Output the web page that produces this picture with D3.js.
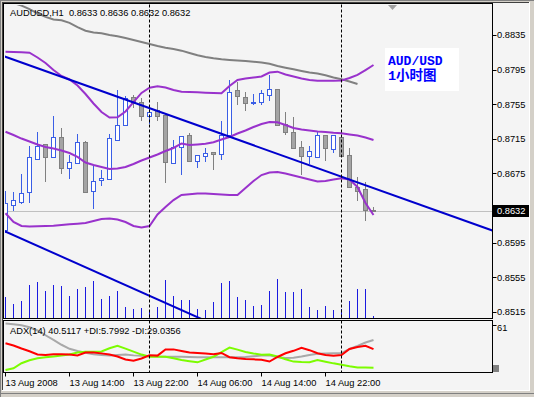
<!DOCTYPE html>
<html><head><meta charset="utf-8">
<script src="https://cdn.jsdelivr.net/npm/d3@7"></script>
<style>
html,body{margin:0;padding:0;background:#f4f4f4;overflow:hidden;}
svg{display:block;}
</style></head><body>
<svg id="c" width="534" height="397"></svg>
<script>
// ---------- data ----------
const barTimes = d3.range(47); // 13 Aug 2008 06:00 .. 15 Aug 04:00, H1 bars
const openP  = [0.8610,0.8638,0.8642,0.8653,0.8692,0.8709,0.8694,0.8717,0.8681,0.8687,0.8711,0.8655,0.8667,0.8669,0.8714,0.8731,0.8763,0.8758,0.8741,0.8748,0.8742,0.8687,0.8706,0.8719,0.8689,0.8695,0.8700,0.8698,0.8719,0.8771,0.8763,0.8756,0.8758,0.8766,0.8772,0.8732,0.8723,0.8705,0.8695,0.8694,0.8719,0.8703,0.8717,0.8696,0.8659,0.8657,0.8633];
const highP  = [0.8655,0.8653,0.8674,0.8707,0.8723,0.8709,0.8741,0.8727,0.8696,0.8721,0.8712,0.8683,0.8679,0.8720,0.8771,0.8765,0.8766,0.8762,0.8750,0.8758,0.8742,0.8714,0.8718,0.8722,0.8696,0.8704,0.8700,0.8736,0.8783,0.8781,0.8769,0.8767,0.8771,0.8789,0.8773,0.8746,0.8740,0.8712,0.8707,0.8724,0.8719,0.8719,0.8719,0.8704,0.8671,0.8665,0.8636];
const lowP   = [0.8607,0.8633,0.8641,0.8642,0.8692,0.8666,0.8694,0.8675,0.8670,0.8687,0.8653,0.8635,0.8662,0.8669,0.8714,0.8731,0.8752,0.8737,0.8733,0.8737,0.8665,0.8687,0.8674,0.8689,0.8682,0.8689,0.8680,0.8692,0.8719,0.8755,0.8748,0.8755,0.8755,0.8760,0.8731,0.8721,0.8704,0.8674,0.8687,0.8694,0.8690,0.8700,0.8695,0.8659,0.8644,0.8621,0.8632];
const closeP = [0.8641,0.8644,0.8652,0.8694,0.8707,0.8694,0.8717,0.8681,0.8688,0.8711,0.8653,0.8666,0.8670,0.8716,0.8731,0.8762,0.8756,0.8741,0.8746,0.8741,0.8688,0.8706,0.8718,0.8689,0.8696,0.8699,0.8697,0.8719,0.8769,0.8764,0.8756,0.8757,0.8768,0.8773,0.8731,0.8723,0.8704,0.8695,0.8701,0.8719,0.8704,0.8719,0.8695,0.8659,0.8655,0.8633,0.8632];
const volumes = [412,286,332,652,712,532,666,632,432,586,612,732,372,432,532,212,172,206,126,226,752,432,352,366,186,166,312,692,746,412,352,232,266,532,786,512,512,586,212,152,246,166,186,332,586,586,46];

const bbUpper = [0.88157,0.88153,0.88150,0.88145,0.88090,0.88026,0.87945,0.87876,0.87836,0.87766,0.87668,0.87558,0.87460,0.87396,0.87399,0.87466,0.87575,0.87680,0.87740,0.87758,0.87743,0.87714,0.87694,0.87691,0.87688,0.87683,0.87680,0.87676,0.87760,0.87830,0.87847,0.87859,0.87870,0.87916,0.87926,0.87893,0.87870,0.87847,0.87830,0.87822,0.87822,0.87822,0.87824,0.87853,0.87888,0.87945,0.88003];
const bbMiddle = [0.87232,0.87194,0.87153,0.87119,0.87084,0.87055,0.87038,0.87015,0.86986,0.86940,0.86876,0.86847,0.86824,0.86801,0.86807,0.86824,0.86859,0.86899,0.86934,0.86969,0.87009,0.87044,0.87096,0.87078,0.87084,0.87092,0.87110,0.87142,0.87171,0.87211,0.87246,0.87286,0.87321,0.87344,0.87341,0.87310,0.87275,0.87257,0.87246,0.87234,0.87229,0.87219,0.87214,0.87200,0.87188,0.87165,0.87136];
const bbLower = [0.86289,0.86188,0.86142,0.86136,0.86138,0.86141,0.86144,0.86153,0.86161,0.86168,0.86177,0.86200,0.86223,0.86229,0.86217,0.86188,0.86142,0.86125,0.86142,0.86275,0.86362,0.86442,0.86500,0.86508,0.86518,0.86518,0.86512,0.86506,0.86500,0.86500,0.86581,0.86662,0.86731,0.86760,0.86766,0.86749,0.86726,0.86703,0.86679,0.86656,0.86662,0.86679,0.86693,0.86679,0.86593,0.86408,0.86269];
const maLine = [0.8877,0.8872,0.8869,0.8865,0.8860,0.8856,0.8853,0.8852,0.8849,0.8844,0.8840,0.8838,0.8837,0.8835,0.88336,0.88315,0.88292,0.88269,0.88246,0.88223,0.88203,0.88188,0.88169,0.88142,0.88115,0.88096,0.88081,0.88069,0.88061,0.88055,0.88049,0.88041,0.88032,0.88018,0.87992,0.87972,0.87953,0.87934,0.87917,0.87905,0.87884,0.87859,0.87838,0.87812,0.87784,null,null];

const trendA = [{bar:0, price:0.8810},{bar:40, price:0.8678}];
const trendB = [{bar:0, price:0.8608},{bar:24, price:0.8509}];

const adxLine = [61.0,60.3,58.9,56.4,52.4,46.4,40.5,34.5,29.4,26.7,24.6,22.7,21.7,20.9,21.7,22.3,21.2,20.8,20.2,19.7,19.5,19.5,19.5,19.2,18.9,18.8,18.8,18.8,18.8,18.8,19.2,20.1,20.9,21.4,18.9,17.9,18.2,19.8,21.7,23.2,23.7,23.8,23.9,29.2,33.0,37.3,40.5117];
const plusDI = [2.9,5.0,11.4,15.0,17.5,18.8,19.9,21.1,22.4,24.9,25.8,25.8,26.2,30.1,33.2,29.7,25.9,22.2,19.5,19.5,19.5,17.5,15.4,13.9,12.5,16.0,19.4,25.4,31.0,28.4,25.4,23.6,22.1,22.4,19.7,16.4,13.4,12.9,12.7,15.3,13.3,11.2,9.4,7.5,6.1,6.0,5.7992];
const minusDI = [36.3,33.6,29.8,26.3,22.3,21.7,22.6,22.6,22.2,21.2,24.8,24.9,23.7,22.3,19.8,16.0,14.5,17.3,21.4,20.9,28.6,28.7,26.7,24.8,24.1,23.4,22.6,24.2,18.9,17.7,16.8,16.2,15.8,13.5,19.2,23.8,26.9,30.7,27.7,23.9,21.7,20.8,21.7,29.2,31.6,33.3,29.0356];

const priceTicks = [0.8835,0.8795,0.8755,0.8715,0.8675,0.8595,0.8555,0.8515];
const timeTickBars = [0,8,16,24,32,40];
const timeLabels = ["13 Aug 2008","13 Aug 14:00","13 Aug 22:00","14 Aug 06:00","14 Aug 14:00","14 Aug 22:00"];
const daySeparatorBars = [18,42];
const currentPrice = 0.8632;
const titleText = "AUDUSD,H1  0.8633 0.8636 0.8632 0.8632";
const adxText = "ADX(14) 40.5117 +DI:5.7992 -DI:29.0356";
const adxMaxLabel = "61";
const noteLines = ["AUD/USD","1小时图"];

// ---------- layout ----------
const svg = d3.select('#c');
const FONT = '"Liberation Sans",Arial,sans-serif';
const L = 4.5, R = 492.5, mT = 4.5, mB = 318.5, aT = 320.5, aB = 372.5;
const x = d3.scaleLinear().domain([0,46]).range([5,373]);
const y = d3.scaleLinear().domain([0.8515,0.8835]).range([311.8,35]);
const yv = d3.scaleLinear().domain([0,800]).range([318,278]);
const ya = d3.scaleLinear().domain([0,61]).range([372.3,323.6]);
const xc = i => Math.round(x(i)) + 0.5;
const yr = v => Math.round(y(v)) + 0.5;
function txt(xp, yp, s, size, fill){
  return svg.append('text').attr('x',xp).attr('y',yp).style('font-family',FONT)
    .style('font-size',size||'9.3px').attr('fill',fill||'#000').attr('xml:space','preserve').text(s);
}

// background & window frame
svg.append('rect').attr('width',534).attr('height',397).attr('fill','#f4f4f4');
svg.append('rect').attr('x',0).attr('y',0).attr('width',534).attr('height',3).attr('fill','#d4d0c8');
svg.append('rect').attr('x',0).attr('y',0).attr('width',3).attr('height',397).attr('fill','#d4d0c8');
svg.append('rect').attr('x',530).attr('y',0).attr('width',4).attr('height',397).attr('fill','#d4d0c8');
svg.append('rect').attr('x',0).attr('y',391).attr('width',534).attr('height',6).attr('fill','#d4d0c8');
svg.append('line').attr('x1',0).attr('x2',534).attr('y1',0.5).attr('y2',0.5).attr('stroke','#808080');
svg.append('line').attr('x1',0.5).attr('x2',0.5).attr('y1',0).attr('y2',397).attr('stroke','#808080');
svg.append('line').attr('x1',2.5).attr('x2',2.5).attr('y1',2).attr('y2',391).attr('stroke','#404040');
svg.append('line').attr('x1',2).attr('x2',530).attr('y1',2.5).attr('y2',2.5).attr('stroke','#404040');
svg.append('line').attr('x1',529.5).attr('x2',529.5).attr('y1',2).attr('y2',391).attr('stroke','#ffffff');
svg.append('line').attr('x1',2).attr('x2',530).attr('y1',390.5).attr('y2',390.5).attr('stroke','#ffffff');
svg.append('line').attr('x1',0).attr('x2',534).attr('y1',393.5).attr('y2',393.5).attr('stroke','#808080');

const defs = svg.append('defs');
defs.append('clipPath').attr('id','cm').append('rect').attr('x',5).attr('y',5).attr('width',487).attr('height',313);
defs.append('clipPath').attr('id','ca').append('rect').attr('x',5).attr('y',321).attr('width',487).attr('height',51);

const gm = svg.append('g').attr('clip-path','url(#cm)');
const ga = svg.append('g').attr('clip-path','url(#ca)');

// current price line
gm.append('line').attr('x1',L).attr('x2',R).attr('y1',yr(currentPrice)).attr('y2',yr(currentPrice))
  .attr('stroke','#c0c0c0').attr('stroke-width',1);

// day separators
daySeparatorBars.forEach(b=>{
  [[mT,mB],[aT,aB]].forEach(([t,bm])=>{
    svg.append('line').attr('x1',xc(b)).attr('x2',xc(b)).attr('y1',t).attr('y2',bm)
      .attr('stroke','#000').attr('stroke-dasharray','3,2').attr('stroke-width',1);
  });
});

// volumes
gm.selectAll('line.vol').data(volumes).enter().append('line').attr('class','vol')
  .attr('x1',(d,i)=>xc(i)).attr('x2',(d,i)=>xc(i))
  .attr('y1',318).attr('y2',d=>Math.round(yv(d)))
  .attr('stroke','#1a1ae0').attr('stroke-width',1).attr('shape-rendering','crispEdges');

// candles
const candles = barTimes.map(i=>({i,o:openP[i],h:highP[i],l:lowP[i],c:closeP[i]}));
const cg = gm.selectAll('g.cd').data(candles).enter().append('g').attr('shape-rendering','crispEdges');
cg.append('line').attr('x1',d=>xc(d.i)).attr('x2',d=>xc(d.i))
  .attr('y1',d=>Math.round(y(d.h))).attr('y2',d=>Math.round(y(d.l))+1)
  .attr('stroke',d=>d.c>=d.o?'#3a5ee6':'#808080');
cg.append('rect').attr('x',d=>xc(d.i)-2).attr('width',4)
  .attr('y',d=>Math.min(yr(d.o),yr(d.c)))
  .attr('height',d=>Math.max(0.01,Math.abs(yr(d.o)-yr(d.c))))
  .attr('fill',d=>d.c>=d.o?'#ffffff':'#a4a4a4')
  .attr('stroke',d=>d.c>=d.o?'#3a5ee6':'#808080');

// moving average & bollinger
const lineP = d3.line().defined(d=>d!=null).x((d,i)=>xc(i)).y(d=>y(d));
gm.append('path').datum(maLine).attr('d',lineP).attr('fill','none').attr('stroke','#808080').attr('stroke-width',2);
[bbUpper,bbMiddle,bbLower].forEach(arr=>{
  gm.append('path').datum(arr).attr('d',lineP).attr('fill','none').attr('stroke','#9932cc').attr('stroke-width',2);
});

// trend lines (rays extended across panel)
[trendA,trendB].forEach(t=>{
  const s=(t[1].price-t[0].price)/(t[1].bar-t[0].bar);
  const b0=-2, b1=64;
  gm.append('line')
    .attr('x1',x(b0)).attr('y1',y(t[0].price+s*(b0-t[0].bar)))
    .attr('x2',x(b1)).attr('y2',y(t[0].price+s*(b1-t[0].bar)))
    .attr('stroke','#0000cd').attr('stroke-width',2);
});

// panel borders
svg.append('rect').attr('x',L-1).attr('y',mT-1).attr('width',R-L+1).attr('height',mB-mT+1)
  .attr('fill','none').attr('stroke','#000').attr('shape-rendering','crispEdges');
svg.append('rect').attr('x',L-1).attr('y',aT).attr('width',R-L+1).attr('height',aB-aT)
  .attr('fill','none').attr('stroke','#000').attr('shape-rendering','crispEdges');

// price axis
priceTicks.forEach(p=>{
  svg.append('line').attr('x1',R).attr('x2',R+4).attr('y1',yr(p)).attr('y2',yr(p)).attr('stroke','#000');
  txt(497, y(p)+3.3, p.toFixed(4));
});
// current price label
svg.append('rect').attr('x',493).attr('y',205).attr('width',36).attr('height',12).attr('fill','#000');
txt(497, y(currentPrice)+3.6, currentPrice.toFixed(4), '9.3px', '#fff');

// shift marker
svg.append('path').attr('d','M388,5 L397,5 L392.5,10 Z').attr('fill','#a0a0a0');

// ADX lines
const lineA = d3.line().x((d,i)=>xc(i)).y(d=>ya(d));
ga.append('path').datum(adxLine).attr('d',lineA).attr('fill','none').attr('stroke','#a9a9a9').attr('stroke-width',2);
ga.append('path').datum(plusDI).attr('d',lineA).attr('fill','none').attr('stroke','#7cfc00').attr('stroke-width',2);
ga.append('path').datum(minusDI).attr('d',lineA).attr('fill','none').attr('stroke','#ff0000').attr('stroke-width',2);

svg.append('line').attr('x1',R).attr('x2',R+4).attr('y1',325.5).attr('y2',325.5).attr('stroke','#000');
txt(497, 331, adxMaxLabel);
svg.append('rect').attr('x',493).attr('y',365).attr('width',6).attr('height',7).attr('fill','#808080');

// time axis
timeTickBars.forEach((b,k)=>{
  svg.append('line').attr('x1',xc(b)).attr('x2',xc(b)).attr('y1',aB).attr('y2',aB+4).attr('stroke','#000');
  txt(xc(b), 386, timeLabels[k]);
});

// texts
txt(10, 16, titleText);
txt(10, 334, adxText);

// note box
svg.append('rect').attr('x',385).attr('y',48).attr('width',74).attr('height',43).attr('fill','#ffffff');
svg.append('text').attr('x',388).attr('y',65).style('font-family','"Liberation Mono","Noto Sans CJK SC",monospace')
  .style('font-weight','bold').style('font-size','13px').attr('fill','#0000ff').text(noteLines[0]);
svg.append('text').attr('x',388).attr('y',80).style('font-family','"Liberation Mono","Noto Sans CJK SC",monospace')
  .style('font-weight','bold').style('font-size','13.5px').attr('fill','#0000ff').text(noteLines[1]);
</script>
</body></html>
